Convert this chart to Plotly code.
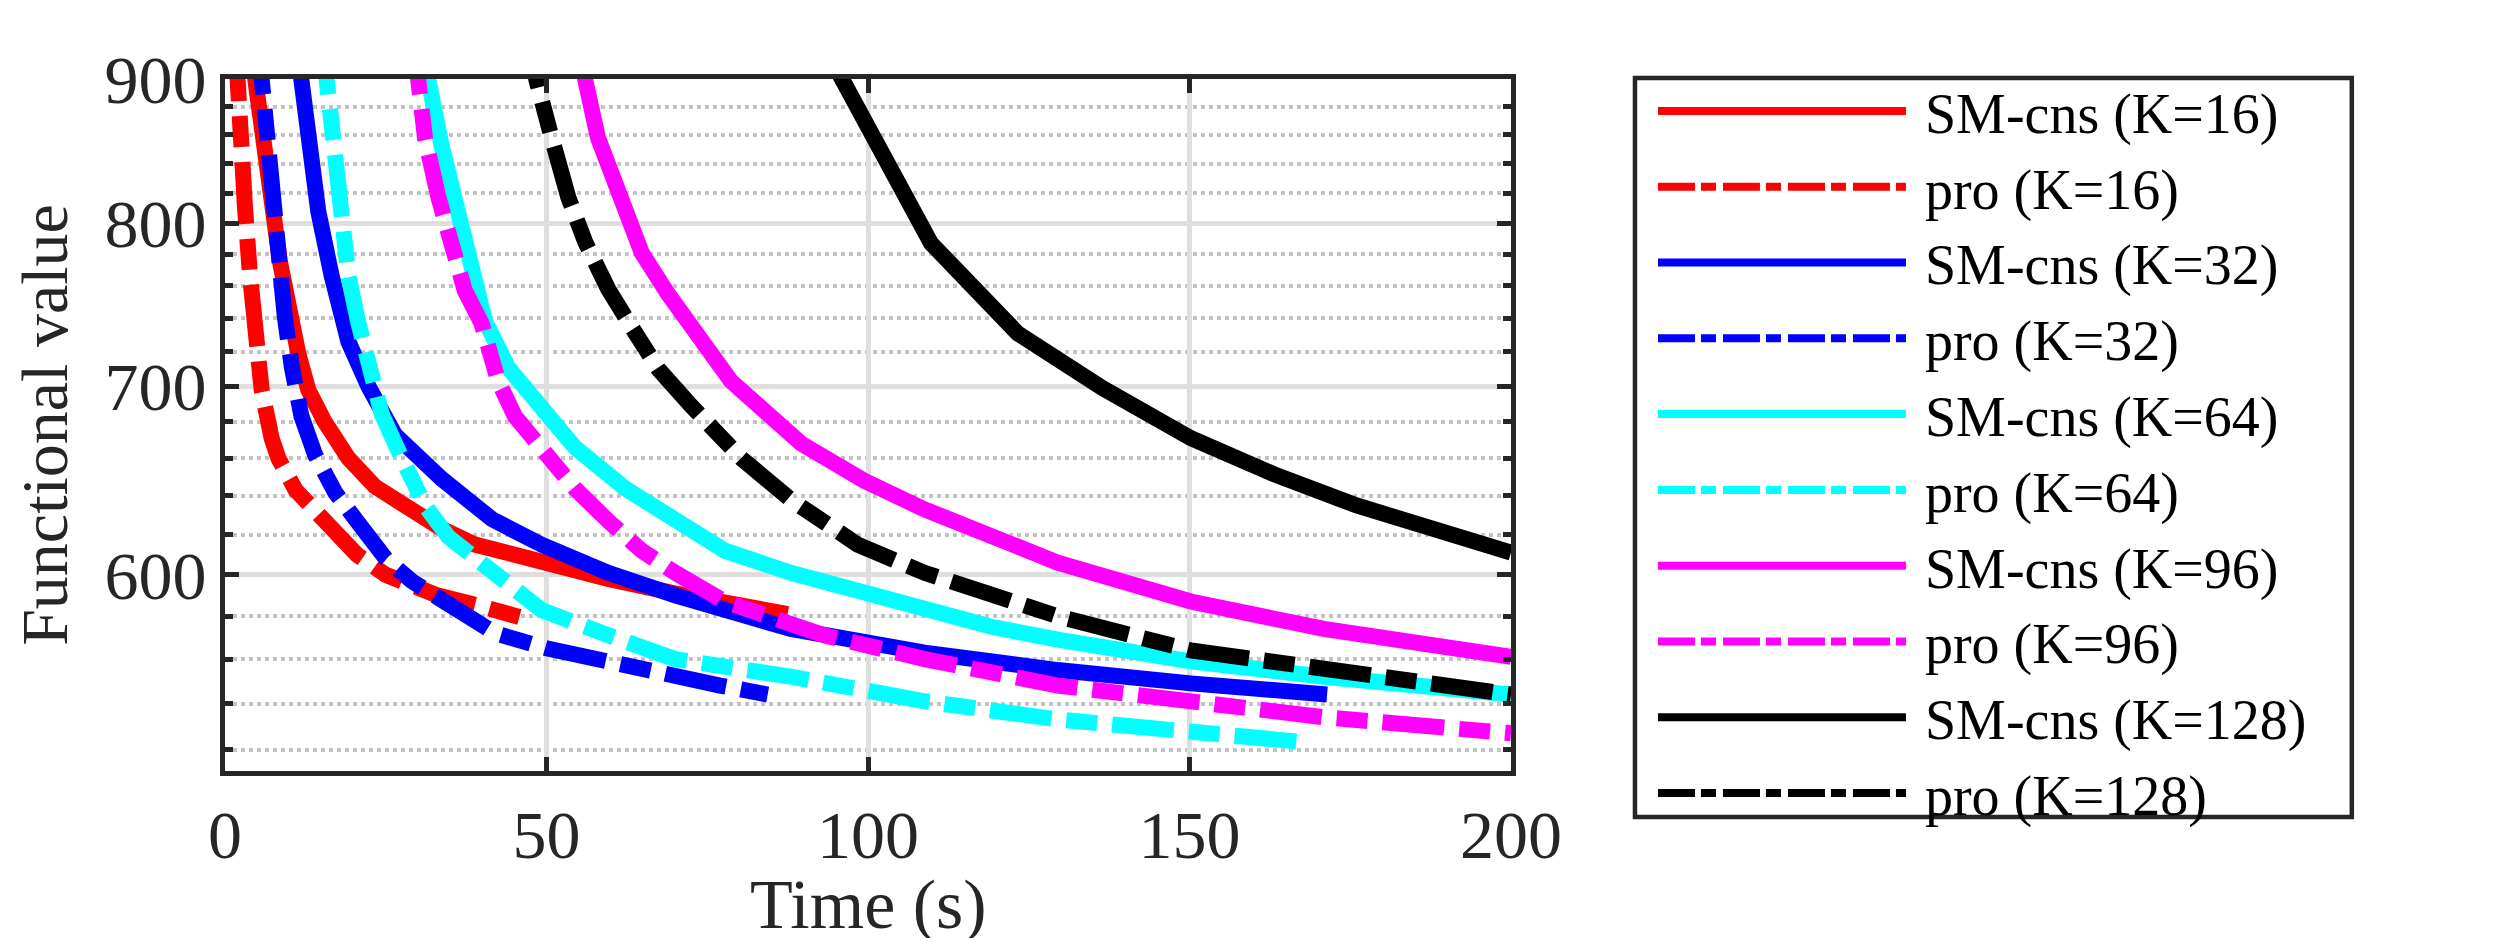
import math
import plotly.graph_objects as go

# Functional value vs time
t_sm16 = [4.0, 4.66, 5.96, 8.55, 11.4, 12.95, 15.5, 19.2, 23.3, 28.5, 33.7, 38.9, 49.2, 59.6, 69.9, 75.1, 87.5]
v_sm16 = [925, 900, 855, 775, 719, 698, 680, 660, 645, 633, 623, 615, 606, 598, 591, 588, 581]

t_pro16 = [1.6, 2.1, 2.3, 3.1, 3.9, 4.7, 5.7, 7.25, 8.3, 11.0, 14.5, 17.0, 20.5, 25.0, 29.0, 33.0, 39.5, 46.5]
v_pro16 = [930, 900, 860, 811, 766, 739, 698, 671, 660, 643, 631, 621, 610, 600, 594.5, 590, 585, 579]

t_sm32 = [11.2, 11.9, 13.0, 14.5, 16.6, 19.2, 22.3, 26.4, 33.7, 41.5, 49.2, 59.6, 70.0, 88.0, 108.8, 129.5, 150.2, 171.4]
v_sm32 = [925, 900, 858, 808, 766, 726, 700, 673, 649, 628, 615, 601, 590, 574, 563, 555, 549, 544]

t_pro32 = [5.0, 5.7, 6.5, 7.25, 8.3, 9.3, 10.4, 11.9, 14.0, 17.1, 20.5, 25.0, 29.0, 33.0, 37.0, 42.0, 50.0, 60.0, 70.0, 77.0, 84.4]
v_pro32 = [935, 900, 857, 809, 766, 741, 711, 683, 662, 642, 627, 608, 597, 589, 581, 572, 565, 558, 552, 548, 544]

t_sm64 = [30.5, 31.6, 33.7, 36.8, 40.4, 44.0, 48.2, 54.4, 62.2, 70.0, 77.7, 88.0, 103.6, 119.2, 129.5, 150.2, 170.9, 200.0]
v_sm64 = [940, 900, 852, 796, 739, 711, 691, 666, 644, 627, 612, 601, 588, 575, 569, 559, 552, 544]

t_pro64 = [15.0, 15.8, 16.6, 17.6, 19.2, 20.7, 22.3, 24.4, 27.5, 31.1, 34.7, 38.9, 44.0, 49.2, 59.6, 70.0, 88.0, 108.8, 129.5, 150.2, 168.8]
v_pro64 = [935, 900, 858, 808, 766, 738, 711, 684, 660, 635, 619, 608, 594, 583, 571, 560, 552, 541, 533, 527, 523]

t_sm96 = [55.0, 56.0, 58.0, 60.6, 64.8, 68.9, 75.1, 78.7, 89.6, 99.4, 108.8, 119.2, 129.5, 150.2, 170.9, 200.0]
v_sm96 = [940, 900, 858, 825, 781, 755, 723, 703, 668, 648, 633, 619, 606, 587, 574, 561]

t_pro96 = [29.2, 30.0, 31.1, 33.2, 35.2, 37.3, 39.9, 42.5, 45.1, 49.2, 54.4, 59.6, 64.8, 70.0, 77.7, 93.2, 108.8, 129.5, 150.2, 170.9, 200.0]
v_pro96 = [935, 900, 858, 817, 784, 757, 737, 703, 683, 665, 644, 627, 612, 601, 587, 571, 560, 548, 541, 534, 527]

t_sm128 = [94.5, 96.0, 109.8, 123.3, 136.5, 150.2, 163.1, 176.0, 189.0, 200.0]
v_sm128 = [913, 900, 787, 731, 699, 671, 651.5, 635, 621.5, 611]

t_pro128 = [47.5, 48.4, 50.8, 53.4, 56.0, 59.6, 63.2, 67.4, 72.5, 80.3, 88.0, 98.4, 108.8, 119.2, 129.5, 150.2, 170.9, 200.0]
v_pro128 = [940, 900, 858, 817, 788, 758, 735, 710, 689, 660, 638, 615, 601, 590, 580, 564, 555, 544]

x_ticks = [0, 50, 100, 150, 200]
y_ticks = [600, 700, 800, 900]
y_minor = [520, 540, 560, 580, 620, 640, 660, 680, 720, 740, 760, 780, 820, 840, 860, 880]

series = [
    ('SM-cns (K=16)', t_sm16, v_sm16, '#ff0000', 'solid'),
    ('pro (K=16)', t_pro16, v_pro16, '#ff0000', 'dashdot'),
    ('SM-cns (K=32)', t_sm32, v_sm32, '#0000ff', 'solid'),
    ('pro (K=32)', t_pro32, v_pro32, '#0000ff', 'dashdot'),
    ('SM-cns (K=64)', t_sm64, v_sm64, '#00ffff', 'solid'),
    ('pro (K=64)', t_pro64, v_pro64, '#00ffff', 'dashdot'),
    ('SM-cns (K=96)', t_sm96, v_sm96, '#ff00ff', 'solid'),
    ('pro (K=96)', t_pro96, v_pro96, '#ff00ff', 'dashdot'),
    ('SM-cns (K=128)', t_sm128, v_sm128, '#000000', 'solid'),
    ('pro (K=128)', t_pro128, v_pro128, '#000000', 'dashdot'),
]

FONT = 'Liberation Serif'
AXIS_COLOR = '#262626'

# plot area in pixels (from the reference)
W, H = 2500, 938
PL, PR, PT, PB = 216.7, 1503, 71, 763


def px_to_paper(x, y):
    return (x - PL) / (PR - PL), (PB - y) / (PB - PT)


fig = go.Figure()

# curves in the axes
for name, t, v, color, style in series:
    dash = 'solid' if style == 'solid' else '62px,15px,31px,15px'
    fig.add_trace(go.Scatter(
        x=t, y=v, mode='lines', name=name, showlegend=False,
        line=dict(color=color, width=16, dash=dash),
    ))

# legend entries (thinner lines, like the reference legend)
for name, t, v, color, style in series:
    dash = 'solid' if style == 'solid' else '37px,6px,15px,7px'
    fig.add_trace(go.Scatter(
        x=[None], y=[None], mode='lines', name='\u00a0' + name,
        line=dict(color=color, width=8, dash=dash),
    ))

# legend frame
bx0, by0 = px_to_paper(1627, 809)
bx1, by1 = px_to_paper(2344, 70)
fig.add_shape(type='rect', xref='paper', yref='paper',
              x0=bx0, y0=by0, x1=bx1, y1=by1,
              line=dict(color=AXIS_COLOR, width=4.5), fillcolor='rgba(0,0,0,0)')

lx, ly = px_to_paper(1645, 60)

# x axis title, placed by hand so it stays inside the page
_, ty = px_to_paper(0, 896)
fig.add_annotation(text='Time (s)', xref='paper', yref='paper', x=0.5, y=ty,
                   xanchor='center', yanchor='middle', showarrow=False,
                   font=dict(family=FONT, size=70, color=AXIS_COLOR))

fig.update_layout(
    width=W, height=H,
    margin=dict(l=PL, r=W - PR, t=PT, b=H - PB),
    paper_bgcolor='white', plot_bgcolor='white',
    font=dict(family=FONT, size=68, color=AXIS_COLOR),
    legend=dict(
        x=lx, y=ly, xanchor='left', yanchor='top',
        bgcolor='rgba(0,0,0,0)', borderwidth=0,
        font=dict(family=FONT, size=56, color='#000000'),
        itemwidth=248, tracegroupgap=0, maxheight=900,
    ),
)

fig.update_xaxes(
    range=[0, 200], tickvals=x_ticks,
    ticks='inside', ticklen=14, tickwidth=4.5, tickcolor=AXIS_COLOR,
    showline=True, linewidth=5, linecolor=AXIS_COLOR, mirror='allticks',
    showgrid=True, gridcolor='#dedede', gridwidth=4.5,
    zeroline=False,
)

fig.update_yaxes(
    type='log', range=[math.log10(511), math.log10(900) + 1e-4], tickvals=y_ticks,
    ticks='inside', ticklen=14, tickwidth=4.5, tickcolor=AXIS_COLOR,
    showline=True, linewidth=5, linecolor=AXIS_COLOR, mirror='allticks',
    showgrid=True, gridcolor='#dedede', gridwidth=4.5,
    minor=dict(tickvals=y_minor, ticks='inside', ticklen=8, tickwidth=4.5,
               tickcolor=AXIS_COLOR, showgrid=True, gridcolor='#c4c4c4',
               gridwidth=4.3, griddash='4px,4px'),
    zeroline=False,
    title=dict(text='Functional value', font=dict(size=66), standoff=25),
)

fig.write_html('out.html')
